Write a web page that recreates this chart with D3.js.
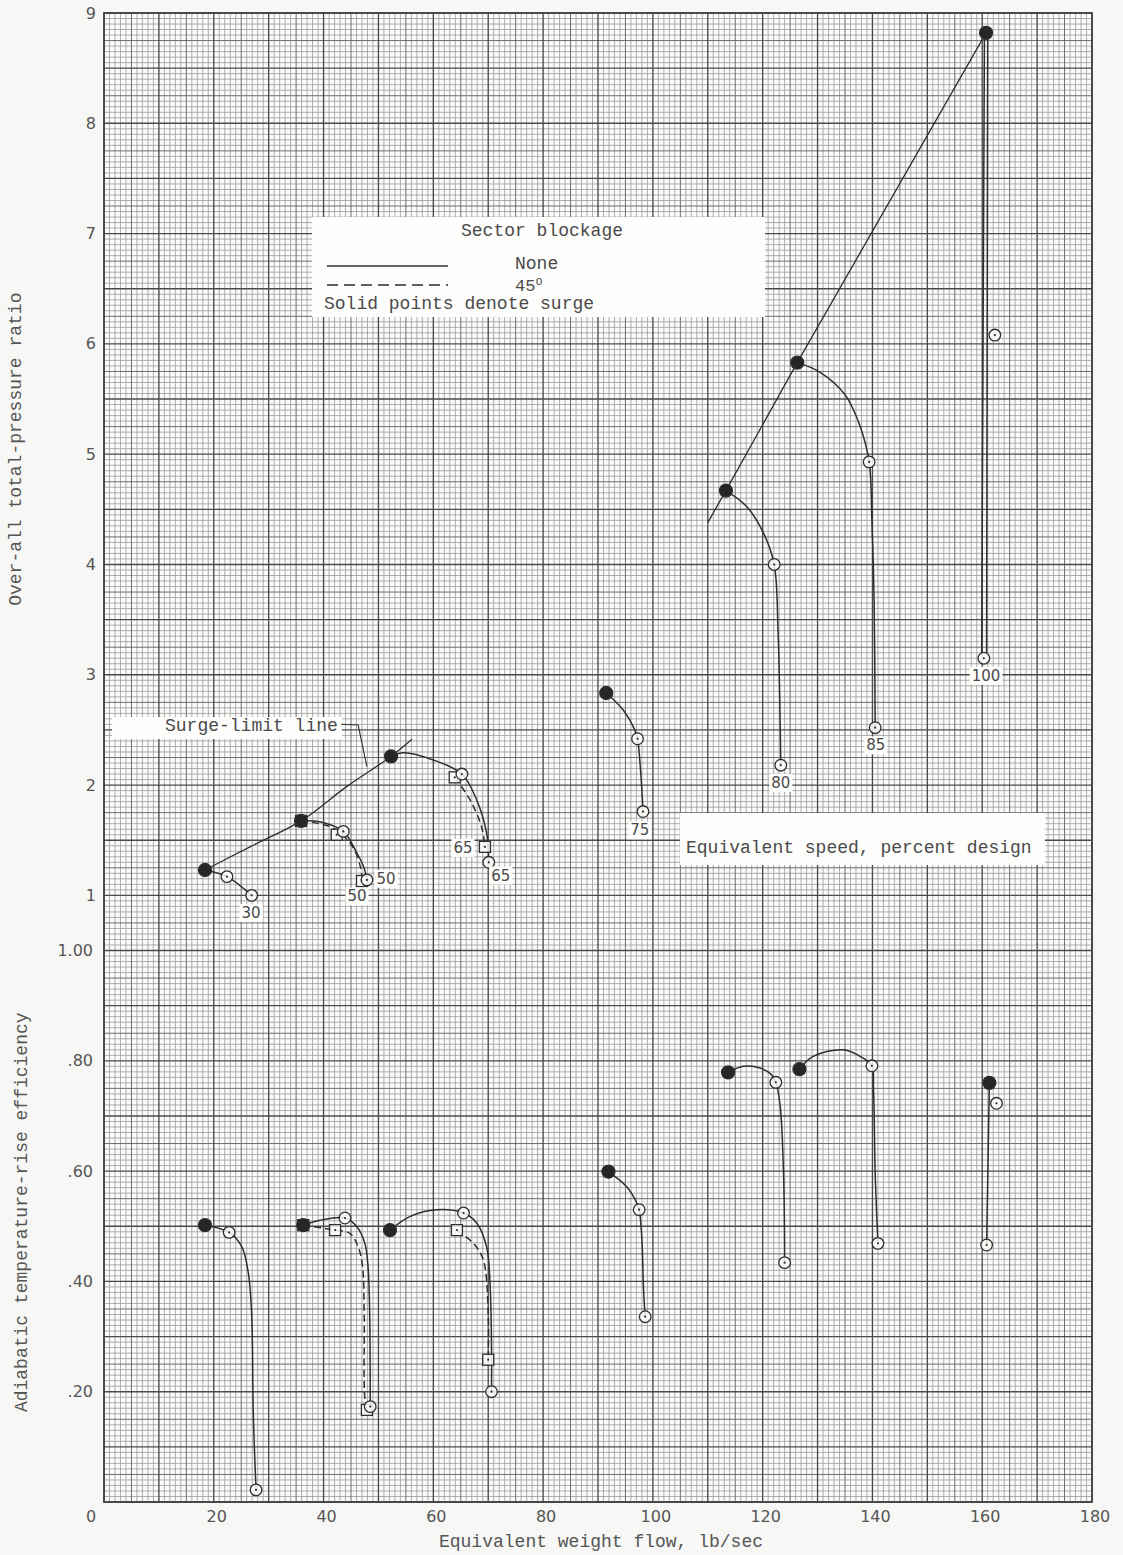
<!DOCTYPE html>
<html>
<head>
<meta charset="utf-8">
<script src="https://cdn.jsdelivr.net/npm/d3@7"></script>
<style>
  body { margin: 0; background: #f7f7f5; }
  svg { display: block; }
</style>
</head>
<body>
<svg id="chart" width="1123" height="1555"></svg>
<script>
// tick labels
const flowTicks = [20, 40, 60, 80, 100, 120, 140, 160, 180];
const ratioTicks = [1, 2, 3, 4, 5, 6, 7, 8, 9];
const effTicks = [0.2, 0.4, 0.6, 0.8, 1.0];

// marker points: [speed, flow, value, surge]
const ratioNone = [
  [30, 18.4, 1.23, 1], [30, 22.4, 1.17, 0], [30, 26.9, 1.00, 0],
  [50, 35.9, 1.675, 1], [50, 43.6, 1.58, 0], [50, 47.9, 1.14, 0],
  [65, 52.3, 2.26, 1], [65, 65.2, 2.10, 0], [65, 70.1, 1.30, 0],
  [75, 91.5, 2.835, 1], [75, 97.2, 2.42, 0], [75, 98.2, 1.76, 0],
  [80, 113.3, 4.67, 1], [80, 122.1, 4.00, 0], [80, 123.3, 2.18, 0],
  [85, 126.3, 5.83, 1], [85, 139.4, 4.93, 0], [85, 140.5, 2.52, 0],
  [100, 160.7, 8.82, 1], [100, 162.3, 6.08, 0], [100, 160.3, 3.15, 0]
];
const ratio45 = [
  [50, 35.9, 1.675, 1], [50, 42.4, 1.55, 0], [50, 47.0, 1.13, 0],
  [65, 63.9, 2.07, 0], [65, 69.4, 1.44, 0]
];
const effNone = [
  [30, 18.4, 0.502, 1], [30, 22.8, 0.489, 0], [30, 27.7, 0.022, 0],
  [50, 36.3, 0.502, 1], [50, 43.9, 0.515, 0], [50, 48.5, 0.173, 0],
  [65, 52.1, 0.493, 1], [65, 65.5, 0.524, 0], [65, 70.6, 0.200, 0],
  [75, 91.9, 0.599, 1], [75, 97.5, 0.530, 0], [75, 98.6, 0.336, 0],
  [80, 113.7, 0.779, 1], [80, 122.4, 0.761, 0], [80, 124.0, 0.434, 0],
  [85, 126.7, 0.785, 1], [85, 139.9, 0.791, 0], [85, 141.0, 0.469, 0],
  [100, 161.3, 0.760, 1], [100, 162.6, 0.723, 0], [100, 160.8, 0.466, 0]
];
const eff45 = [
  [50, 36.3, 0.502, 1], [50, 42.1, 0.493, 0], [50, 47.9, 0.167, 0],
  [65, 64.3, 0.493, 0], [65, 70.0, 0.258, 0]
];

// faired curves
const ratioCurvesNone = [
  [[18.4, 1.23], [22.4, 1.17], [26.9, 1.00]],
  [[35.9, 1.675], [39.5, 1.665], [43.6, 1.58], [45.9, 1.40], [47.3, 1.26], [47.9, 1.14]],
  [[52.3, 2.26], [54.5, 2.294], [60.0, 2.228], [65.2, 2.10], [67.9, 1.865], [69.7, 1.566], [70.1, 1.30]],
  [[91.5, 2.835], [94.6, 2.68], [96.7, 2.50], [97.2, 2.42], [97.8, 2.10], [98.2, 1.76]],
  [[113.3, 4.67], [117.0, 4.53], [120.2, 4.28], [122.1, 4.00], [122.8, 3.40], [123.1, 2.80], [123.3, 2.18]],
  [[126.3, 5.83], [130.4, 5.745], [135.0, 5.54], [137.7, 5.26], [139.4, 4.93], [139.9, 4.40], [140.3, 3.68], [140.5, 2.52]],
  [[160.4, 8.82], [159.9, 3.20]],
  [[161.0, 8.82], [160.8, 3.20]]
];
const ratioCurves45 = [
  [[35.9, 1.675], [41.8, 1.61], [45.3, 1.44], [46.8, 1.24], [47.0, 1.13]],
  [[63.9, 2.07], [66.7, 1.865], [68.8, 1.62], [69.4, 1.44]]
];
const effCurvesNone = [
  [[18.4, 0.502], [22.8, 0.489], [25.1, 0.463], [26.3, 0.415], [26.9, 0.342], [27.2, 0.16], [27.7, 0.022]],
  [[36.3, 0.502], [39.4, 0.511], [43.9, 0.515], [46.0, 0.500], [47.5, 0.470], [48.1, 0.427], [48.4, 0.342], [48.5, 0.173]],
  [[52.1, 0.493], [55.8, 0.518], [60.6, 0.530], [65.5, 0.524], [67.9, 0.506], [69.7, 0.463], [70.3, 0.403], [70.6, 0.282], [70.6, 0.200]],
  [[91.9, 0.599], [95.2, 0.572], [96.8, 0.548], [97.5, 0.530], [98.0, 0.475], [98.3, 0.385], [98.6, 0.336]],
  [[113.7, 0.779], [116.5, 0.790], [119.5, 0.787], [121.6, 0.775], [122.4, 0.761], [123.2, 0.717], [123.8, 0.596], [124.0, 0.434]],
  [[126.7, 0.785], [129.2, 0.808], [134.7, 0.820], [138.3, 0.805], [139.9, 0.791], [140.2, 0.748], [140.5, 0.596], [141.0, 0.469]],
  [[161.3, 0.760], [160.8, 0.466]]
];
const effCurves45 = [
  [[36.3, 0.502], [42.1, 0.493], [44.8, 0.487], [46.3, 0.463], [47.1, 0.427], [47.4, 0.342], [47.5, 0.191], [47.9, 0.167]],
  [[64.3, 0.493], [67.3, 0.469], [69.1, 0.439], [70.0, 0.342], [70.0, 0.258]]
];
const surgeLimit = [[18.4, 1.23], [26.6, 1.44], [35.9, 1.675], [44.2, 1.986], [52.3, 2.26], [56.1, 2.415]];
const surgeLimitUpper = [[110.0, 4.38], [113.3, 4.67], [126.3, 5.83], [160.7, 8.82]];
const surgeLeader = [[43.2, 2.551], [46.3, 2.545], [47.9, 2.167]];

// speed labels: [text, flow, ratio]
const speedLabels = [
  ['30', 26.8, 0.84], ['50', 51.4, 1.15], ['50', 46.1, 0.99],
  ['65', 65.4, 1.43], ['65', 72.3, 1.18], ['75', 97.6, 1.59],
  ['80', 123.3, 2.02], ['85', 140.6, 2.36], ['100', 160.7, 2.99]
];

const mono = "'Liberation Mono', 'DejaVu Sans Mono', monospace";
const sans = "'DejaVu Sans', 'Liberation Sans', sans-serif";
const ink = '#2e2e2e';
const textInk = '#4a4a4a';
const paper = '#fbfbf9';

const plot = { left: 104, right: 1092, top: 13, bottom: 1502 };
const x = d3.scaleLinear().domain([0, 180]).range([plot.left, plot.right]);
// the sheet is 270 fine rows high; pressure ratio and efficiency share it
const rows = d3.scaleLinear().domain([0, 270]).range([plot.bottom, plot.top]);
const yP = d3.scaleLinear().domain([1, 9]).range([rows(110), rows(270)]);
const yE = d3.scaleLinear().domain([0, 1]).range([rows(0), rows(100)]);

const svg = d3.select('#chart');

// ---- graph paper ----
const grid = svg.append('g').attr('class', 'grid');
grid.append('rect')
  .attr('x', plot.left).attr('y', plot.top)
  .attr('width', plot.right - plot.left).attr('height', plot.bottom - plot.top)
  .attr('fill', paper);

const weight = i => (i % 10 === 0 ? 2 : i % 5 === 0 ? 1 : 0);
const gridStyle = [
  { stroke: '#959595', width: 0.75 },
  { stroke: '#666', width: 0.95 },
  { stroke: '#4a4a4a', width: 1.35 }
];
const cols = d3.range(0, 181);
const rws = d3.range(0, 271);
[0, 1, 2].forEach(level => {
  grid.selectAll(`line.v${level}`)
    .data(cols.filter(i => weight(i) === level))
    .join('line')
      .attr('class', `v${level}`)
      .attr('x1', d => x(d)).attr('x2', d => x(d))
      .attr('y1', plot.top).attr('y2', plot.bottom)
      .attr('stroke', gridStyle[level].stroke)
      .attr('stroke-width', gridStyle[level].width);
  grid.selectAll(`line.h${level}`)
    .data(rws.filter(i => weight(i) === level))
    .join('line')
      .attr('class', `h${level}`)
      .attr('y1', d => rows(d)).attr('y2', d => rows(d))
      .attr('x1', plot.left).attr('x2', plot.right)
      .attr('stroke', gridStyle[level].stroke)
      .attr('stroke-width', gridStyle[level].width);
});
grid.append('rect')
  .attr('x', plot.left).attr('y', plot.top)
  .attr('width', plot.right - plot.left).attr('height', plot.bottom - plot.top)
  .attr('fill', 'none').attr('stroke', '#444').attr('stroke-width', 1.8);

// ---- tick labels ----
const ticks = svg.append('g')
  .style('font-family', sans).style('font-size', '16px').attr('fill', '#555');
ticks.selectAll('text.tp')
  .data(ratioTicks)
  .join('text')
    .attr('class', 'tp')
    .attr('x', plot.left - 8).attr('y', d => yP(d))
    .attr('text-anchor', 'end').attr('dominant-baseline', 'central')
    .text(d => d);
ticks.selectAll('text.te')
  .data(effTicks)
  .join('text')
    .attr('class', 'te')
    .attr('x', plot.left - 11).attr('y', d => yE(d))
    .attr('text-anchor', 'end').attr('dominant-baseline', 'central')
    .text(d => d3.format('.2f')(d).replace(/^0/, ''));
ticks.selectAll('text.tx')
  .data(flowTicks)
  .join('text')
    .attr('class', 'tx')
    .attr('x', d => x(d) + 3).attr('y', plot.bottom + 14)
    .attr('text-anchor', 'middle').attr('dominant-baseline', 'central')
    .text(d => d);
ticks.append('text')
  .attr('x', plot.left - 13).attr('y', plot.bottom + 14)
  .attr('text-anchor', 'middle').attr('dominant-baseline', 'central')
  .text('0');

// ---- axis titles ----
const titles = svg.append('g')
  .style('font-family', mono).style('font-size', '18px').attr('fill', '#555');
titles.append('text')
  .attr('x', (plot.left + plot.right) / 2 + 3).attr('y', 1547)
  .attr('text-anchor', 'middle')
  .text('Equivalent weight flow, lb/sec');
titles.append('text')
  .attr('transform', `translate(21, ${(yP(1) + yP(9)) / 2 - 5}) rotate(-90)`)
  .attr('text-anchor', 'middle')
  .text('Over-all total-pressure ratio');
titles.append('text')
  .attr('transform', `translate(27, ${(yE(0) + yE(1)) / 2 - 14}) rotate(-90)`)
  .attr('text-anchor', 'middle')
  .text('Adiabatic temperature-rise efficiency');

// ---- annotation boxes ----
const notes = svg.append('g')
  .style('font-family', mono).style('font-size', '18px').attr('fill', textInk);

notes.append('rect')
  .attr('x', 312).attr('y', 217).attr('width', 453).attr('height', 100)
  .attr('fill', '#fdfdfc');
notes.append('text').attr('x', 542).attr('y', 236)
  .attr('text-anchor', 'middle').text('Sector blockage');
notes.append('line')
  .attr('x1', 327).attr('x2', 448).attr('y1', 266).attr('y2', 266)
  .attr('stroke', ink).attr('stroke-width', 1.4);
notes.append('line')
  .attr('x1', 327).attr('x2', 448).attr('y1', 285).attr('y2', 285)
  .attr('stroke', ink).attr('stroke-width', 1.4)
  .attr('stroke-dasharray', '11,6');
notes.append('text').attr('x', 515).attr('y', 269).text('None');
const deg = notes.append('text').attr('x', 515).attr('y', 291).style('font-size', '17px');
deg.append('tspan').text('45');
deg.append('tspan').attr('dy', -6).style('font-size', '12px').text('o');
notes.append('text').attr('x', 324).attr('y', 309).text('Solid points denote surge');

notes.append('rect')
  .attr('x', 112).attr('y', 717).attr('width', 230).attr('height', 22)
  .attr('fill', '#fdfdfc');
notes.append('text').attr('x', 165).attr('y', 731).text('Surge-limit line');

notes.append('rect')
  .attr('x', 680).attr('y', 813).attr('width', 365).attr('height', 52)
  .attr('fill', '#fdfdfc');
notes.append('text').attr('x', 686).attr('y', 853).text('Equivalent speed, percent design');

// ---- curves ----
const lineP = d3.line().x(d => x(d[0])).y(d => yP(d[1])).curve(d3.curveCatmullRom.alpha(0.5));
const lineE = d3.line().x(d => x(d[0])).y(d => yE(d[1])).curve(d3.curveCatmullRom.alpha(0.5));
const curves = svg.append('g').attr('fill', 'none').attr('stroke', ink).attr('stroke-width', 1.5);

curves.selectAll('path.pn').data(ratioCurvesNone).join('path')
  .attr('class', 'pn').attr('d', lineP);
curves.selectAll('path.pd').data(ratioCurves45).join('path')
  .attr('class', 'pd').attr('d', lineP).attr('stroke-dasharray', '7,4');
curves.selectAll('path.en').data(effCurvesNone).join('path')
  .attr('class', 'en').attr('d', lineE);
curves.selectAll('path.ed').data(effCurves45).join('path')
  .attr('class', 'ed').attr('d', lineE).attr('stroke-dasharray', '7,4');
curves.append('path').attr('d', lineP(surgeLimit)).attr('stroke-width', 1.3);
curves.append('path')
  .attr('d', lineP.curve(d3.curveLinear)(surgeLimitUpper)).attr('stroke-width', 1.3);
curves.append('path')
  .attr('d', lineP.curve(d3.curveLinear)(surgeLeader)).attr('stroke-width', 1.1);

// ---- markers ----
function drawMarkers(g, data, yScale, shape) {
  const m = g.selectAll(null).data(data).join('g')
    .attr('transform', d => `translate(${x(d[1])}, ${yScale(d[2])})`);
  if (shape === 'circle') {
    m.append('circle')
      .attr('r', d => (d[3] ? 6.5 : 5.8))
      .attr('fill', d => (d[3] ? '#262626' : paper))
      .attr('fill-opacity', d => (d[3] ? 1 : 0.85))
      .attr('stroke', ink).attr('stroke-width', 1.3);
  } else {
    m.append('rect')
      .attr('x', -5.5).attr('y', -5.5).attr('width', 11).attr('height', 11)
      .attr('fill', d => (d[3] ? '#262626' : paper))
      .attr('fill-opacity', d => (d[3] ? 1 : 0.85))
      .attr('stroke', ink).attr('stroke-width', 1.3);
  }
  m.filter(d => !d[3]).append('circle')
    .attr('r', 1.1).attr('fill', ink);
}
const marks = svg.append('g');
drawMarkers(marks, ratio45, yP, 'square');
drawMarkers(marks, eff45, yE, 'square');
drawMarkers(marks, ratioNone, yP, 'circle');
drawMarkers(marks, effNone, yE, 'circle');

// ---- speed labels ----
const labels = svg.append('g')
  .style('font-family', sans).style('font-size', '15px').attr('fill', textInk);
speedLabels.forEach(([t, f, r]) => {
  const lg = labels.append('g');
  const txt = lg.append('text')
    .attr('x', x(f)).attr('y', yP(r))
    .attr('text-anchor', 'middle').attr('dominant-baseline', 'central')
    .text(t);
  const bb = txt.node().getBBox();
  lg.insert('rect', 'text')
    .attr('x', bb.x - 2).attr('y', bb.y)
    .attr('width', bb.width + 4).attr('height', bb.height)
    .attr('fill', '#fdfdfc');
});
</script>
</body>
</html>
